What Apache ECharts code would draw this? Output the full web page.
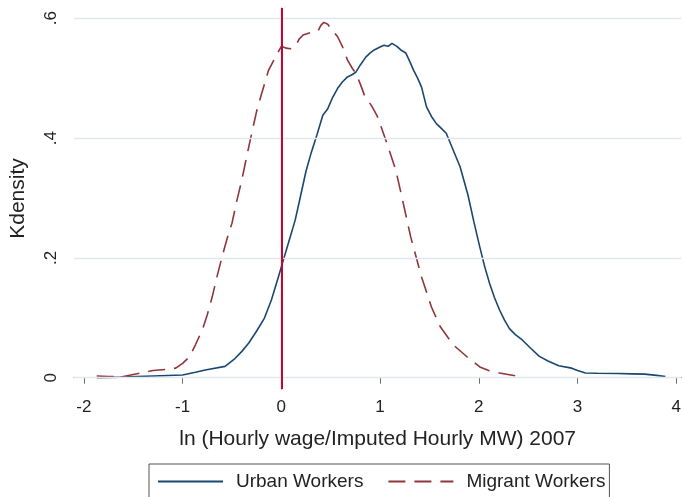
<!DOCTYPE html>
<html>
<head>
<meta charset="utf-8">
<script src="https://cdn.jsdelivr.net/npm/echarts@6/dist/echarts.min.js"></script>
<style>
  html, body { margin: 0; padding: 0; background: #fff; }
  #main { width: 684px; height: 497px; }
</style>
</head>
<body>
<div id="main"></div>
<script>
// kernel density, urban workers (x = ln wage ratio, y = density)
const urbanX = [-1.87, -1.63, -1.3, -1.0, -0.87, -0.77, -0.57, -0.47, -0.40, -0.33, -0.25, -0.17, -0.10, -0.03, 0.0,
  0.07, 0.14, 0.19, 0.25, 0.30, 0.36, 0.42, 0.47, 0.52, 0.57, 0.62, 0.67, 0.72, 0.755, 0.80, 0.855, 0.90, 0.94,
  1.0, 1.04, 1.08, 1.12, 1.17, 1.21, 1.26, 1.30, 1.34, 1.38, 1.42, 1.47, 1.52, 1.57, 1.62, 1.67, 1.74, 1.81,
  1.89, 1.95, 2.01, 2.06, 2.11, 2.16, 2.21, 2.26, 2.31, 2.37, 2.44, 2.52, 2.61, 2.70, 2.81, 2.94, 3.0, 3.08,
  3.2, 3.41, 3.55, 3.68, 3.8, 3.89];
const urbanY = [0, 0.001, 0.003, 0.0045, 0.009, 0.013, 0.019, 0.032, 0.044, 0.058, 0.078, 0.10, 0.13, 0.168, 0.185,
  0.224, 0.263, 0.30, 0.345, 0.374, 0.405, 0.438, 0.449, 0.468, 0.483, 0.494, 0.502, 0.506, 0.510, 0.522, 0.535, 0.542, 0.547,
  0.552, 0.555, 0.553, 0.558, 0.553, 0.547, 0.542, 0.528, 0.513, 0.500, 0.485, 0.452, 0.436, 0.424, 0.416, 0.408, 0.38, 0.352,
  0.305, 0.26, 0.218, 0.185, 0.157, 0.133, 0.113, 0.096, 0.082, 0.072, 0.063, 0.050, 0.036, 0.028, 0.020, 0.016, 0.012, 0.008,
  0.0075, 0.007, 0.0065, 0.006, 0.004, 0.002];

// kernel density, migrant workers
const migrantX = [-1.87, -1.75, -1.60, -1.45, -1.30, -1.15, -1.07, -1.0, -0.93, -0.87, -0.80, -0.75, -0.70, -0.65,
  -0.60, -0.55, -0.50, -0.45, -0.40, -0.35, -0.30, -0.25, -0.20, -0.13, -0.06, 0.0, 0.05, 0.09, 0.14, 0.18, 0.22,
  0.30, 0.37, 0.40, 0.43, 0.47, 0.50, 0.57, 0.62, 0.67, 0.72, 0.755, 0.80, 0.84, 0.92, 0.97, 1.01, 1.07, 1.16,
  1.22, 1.31, 1.42, 1.52, 1.61, 1.74, 1.88, 2.01, 2.10, 2.21, 2.31, 2.41];
const migrantY = [0.003, 0.002, 0.002, 0.007, 0.012, 0.014, 0.016, 0.024, 0.035, 0.055, 0.080, 0.105, 0.135, 0.17,
  0.202, 0.232, 0.258, 0.296, 0.33, 0.37, 0.408, 0.445, 0.474, 0.513, 0.535, 0.553, 0.55, 0.549, 0.552, 0.565, 0.572,
  0.576, 0.578, 0.588, 0.593, 0.590, 0.583, 0.569, 0.552, 0.530, 0.516, 0.508, 0.49, 0.472, 0.452, 0.437, 0.419, 0.391, 0.346,
  0.302, 0.235, 0.168, 0.118, 0.085, 0.055, 0.035, 0.018, 0.012, 0.008, 0.005, 0.002];

const xTicks = [-2, -1, 0, 1, 2, 3, 4];
const yTicks = [0, 0.2, 0.4, 0.6];
const refLineX = 0;

const zip = (xs, ys) => xs.map((x, i) => [x, ys[i]]);
const fmtY = v => v === 0 ? '0' : String(v).replace(/^0/, '');

const chart = echarts.init(document.getElementById('main'), null, { renderer: 'canvas' });

const font = 'Liberation Sans, Arial, sans-serif';
const axisGray = '#6e6e6e';

chart.setOption({
  animation: false,
  textStyle: { fontFamily: font },
  grid: { left: 70, top: 8, right: 1, bottom: 108 },
  legend: {
    left: 149, top: 464,
    padding: [8, 4, 40, 8],
    borderColor: '#555', borderWidth: 1,
    itemWidth: 65, itemHeight: 14, itemGap: 24,
    itemStyle: { opacity: 0 },
    textStyle: { fontSize: 19, color: '#222', fontFamily: font, padding: [0, 0, 0, 8] },
    data: ['Urban Workers', 'Migrant Workers']
  },
  xAxis: {
    type: 'value', min: -2.1, max: 4.05,
    name: 'ln (Hourly wage/Imputed Hourly MW) 2007',
    nameLocation: 'middle', nameGap: 40,
    nameTextStyle: { fontSize: 21, color: '#222', fontFamily: font },
    axisLine: { lineStyle: { color: axisGray, width: 1.2 } },
    axisTick: { customValues: xTicks, length: 6, lineStyle: { color: axisGray } },
    axisLabel: { customValues: xTicks, fontSize: 17, color: '#222', margin: 10, formatter: v => String(v) },
    splitLine: { show: false }
  },
  yAxis: {
    type: 'value', min: -0.0188, max: 0.617,
    name: 'Kdensity',
    nameLocation: 'middle', nameGap: 45,
    nameTextStyle: { fontSize: 21, color: '#222', fontFamily: font },
    axisLine: { show: true, lineStyle: { color: axisGray, width: 1.2 } },
    axisTick: { show: true, customValues: yTicks, length: 6, lineStyle: { color: axisGray } },
    axisLabel: { customValues: yTicks, rotate: 90, fontSize: 17, color: '#222', margin: 14, formatter: fmtY },
    splitLine: { show: false }
  },
  series: [
    {
      name: 'grid', type: 'line', data: [], silent: true,
      markLine: {
        symbol: 'none', silent: true, label: { show: false },
        lineStyle: { color: '#dfe8ea', width: 1.3, type: 'solid' },
        data: yTicks.map(v => ({ yAxis: v }))
      }
    },
    {
      name: 'Urban Workers', type: 'line', data: zip(urbanX, urbanY),
      showSymbol: false, symbol: 'none', z: 3,
      lineStyle: { color: '#1a476f', width: 1.6 },
      itemStyle: { color: '#1a476f' }
    },
    {
      name: 'Migrant Workers', type: 'line', data: zip(migrantX, migrantY),
      showSymbol: false, symbol: 'none', z: 3,
      lineStyle: { color: '#90353b', width: 1.6, type: [17, 9] },
      itemStyle: { color: '#90353b' },
      markLine: {
        symbol: 'none', silent: true, label: { show: false },
        lineStyle: { color: '#c10534', width: 2, type: 'solid' },
        data: [{ xAxis: refLineX }]
      }
    }
  ]
});
</script>
</body>
</html>
